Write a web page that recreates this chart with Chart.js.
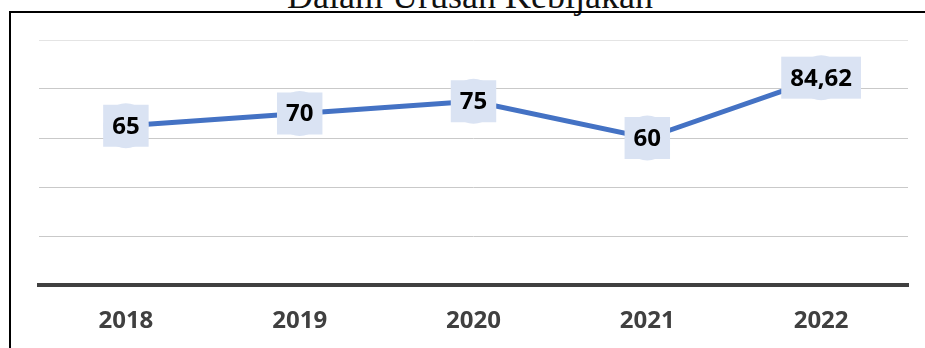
<!DOCTYPE html>
<html>
<head>
<meta charset="utf-8">
<script src="https://cdn.jsdelivr.net/npm/chart.js@4.4.1/dist/chart.umd.min.js"></script>
<style>
  html, body { margin: 0; padding: 0; background: #fff; }
  body { width: 925px; height: 348px; position: relative; overflow: hidden; }
  .frame {
    position: absolute; left: 9px; top: 11px; right: -4px; bottom: -4px;
    border-left: 2px solid #000; border-top: 2px solid #000;
  }
  .title {
    position: absolute; left: 0; width: 940px; top: -22px;
    text-align: center; font-family: "Liberation Serif", "DejaVu Serif", serif;
    font-size: 36px; line-height: 36px; color: #111; white-space: nowrap;
  }
  #chart { position: absolute; left: 0; top: 0; }
</style>
</head>
<body>
<div class="title">Dalam Urusan Kebijakan</div>
<div class="frame"></div>
<canvas id="chart" width="925" height="348"></canvas>
<script>
// Index values per year
const years = ['2018', '2019', '2020', '2021', '2022'];
const scores = [65, 70, 75, 60, 84.62];
const yTicks = [0, 20, 40, 60, 80, 100];

const boxFill = '#dae3f3';

// Value boxes drawn over each point
const valueBoxes = {
  id: 'valueBoxes',
  afterDatasetsDraw(chart) {
    const ctx = chart.ctx;
    const meta = chart.getDatasetMeta(0);
    ctx.save();
    ctx.font = 'bold 24px "Open Sans", "Liberation Sans", sans-serif';
    ctx.textAlign = 'center';
    ctx.textBaseline = 'middle';
    meta.data.forEach(function(pt, i) {
      const text = String(scores[i]).replace('.', ',');
      const w = ctx.measureText(text).width + 18;
      const h = 42;
      ctx.fillStyle = boxFill;
      ctx.fillRect(pt.x - w / 2, pt.y - h / 2, w, h);
      ctx.fillStyle = '#000';
      ctx.fillText(text, pt.x, pt.y + 1);
    });
    ctx.restore();
  }
};

new Chart(document.getElementById('chart'), {
  type: 'line',
  data: {
    labels: years,
    datasets: [{
      data: scores,
      borderColor: '#4472c4',
      borderWidth: 5,
      tension: 0,
      pointRadius: 22.5,
      pointHoverRadius: 22.5,
      pointBackgroundColor: boxFill,
      pointBorderWidth: 0
    }]
  },
  options: {
    responsive: false,
    animation: false,
    layout: { autoPadding: false, padding: { left: 39, right: 17, top: 40, bottom: 0 } },
    plugins: {
      legend: { display: false },
      tooltip: { enabled: false }
    },
    scales: {
      x: {
        offset: true,
        grid: { display: false, drawTicks: false },
        border: { display: true, color: '#404040', width: 4 },
        ticks: {
          color: '#404040',
          font: { family: '"Open Sans", "Liberation Sans", sans-serif', size: 24, weight: 'bold' },
          padding: 22
        },
        afterFit(scale) {
          scale.height = 63;
          scale.paddingLeft = 0;
          scale.paddingRight = 0;
        }
      },
      y: {
        min: 0,
        max: 100,
        afterBuildTicks(scale) { scale.ticks = yTicks.map(v => ({ value: v })); },
        ticks: { display: false },
        grid: {
          drawTicks: false,
          lineWidth: 1,
          color: ctx => ctx.tick && ctx.tick.value === 100 ? '#e4e4e4' : '#c9c9c9'
        },
        border: { display: false },
        afterFit(scale) { scale.width = 0; }
      }
    }
  },
  plugins: [valueBoxes]
});
</script>
</body>
</html>
